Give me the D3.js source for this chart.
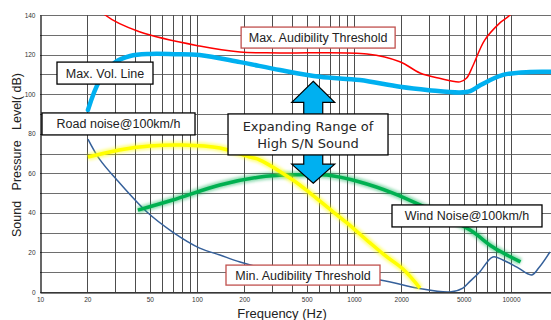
<!DOCTYPE html>
<html>
<head>
<meta charset="utf-8">
<script src="https://cdn.jsdelivr.net/npm/d3@7"></script>
<style>
  body { margin: 0; background: #fff; }
  svg { display: block; font-family: "Liberation Sans", Arial, sans-serif; }
</style>
</head>
<body>
<div id="chart"></div>
<script>
// Tick labels
var freqTicks = [10, 20, 50, 100, 200, 500, 1000, 2000, 5000, 10000];
var dbTicks = [0, 20, 40, 60, 80, 100, 120, 140];

// Series: [frequency Hz, level dB]
var maxAudibility = [[22, 147], [26, 140], [43, 131.5], [104, 124.3], [188, 121.3], [338, 120.8],
  [1210, 120.3], [1960, 116.4], [2630, 110.7], [3500, 108], [4730, 106.2], [5200, 108],
  [5730, 114.5], [6800, 127.3], [8500, 136], [9860, 140], [11000, 146]];

var maxVolume = [[20.2, 92], [24, 107], [30, 116], [37.5, 119.3], [50, 120.3], [72, 120.2],
  [104, 119.8], [188, 116.2], [338, 112.2], [607, 108.8], [1090, 107.1], [1960, 103.7],
  [3000, 102], [4730, 100.8], [5500, 101.5], [6400, 104.6], [8900, 109.7], [13200, 111.2],
  [20000, 111.2]];

var roadNoise = [[20.2, 68.2], [32, 71.8], [50, 73.8], [80, 74.3], [140, 72.8], [218, 68.2],
  [252, 66.7], [408, 56.6], [525, 50], [673, 43], [902, 34.9], [1265, 24.8], [1620, 17.7],
  [2050, 11.6], [2630, 2]];

var windNoise = [[42, 41.4], [70, 46.5], [140, 54.1], [252, 58.1], [391, 59.1], [673, 59.1],
  [1090, 55.6], [1770, 50], [2630, 44], [5490, 31.3], [7660, 22.7], [11500, 15.2]];

var minAudibility = [[20.2, 77.3], [24, 67], [30.9, 56.6], [48, 40.4], [70, 30.3], [104, 22.2],
  [140, 18.7], [188, 15.2], [338, 10.1], [607, 8.1], [1466, 6.1], [2519, 2], [4070, 0],
  [4940, 2], [5500, 5.5], [6300, 10], [7660, 17.7], [8870, 16.2], [10900, 12.6],
  [13500, 8.6], [15000, 12.1], [17700, 20.2]];

// Annotation boxes, anchored at their top-left corner in chart units
var notes = [
  { text: "Max. Audibility Threshold", f: 191, db: 133.9, w: 154, h: 21, border: "#c0504d" },
  { text: "Max. Vol. Line", f: 12.83, db: 116.2, w: 96, h: 22, border: "#000" },
  { text: "Road noise@100km/h", f: 10.3, db: 90.5, w: 153, h: 22, border: "#000" },
  { text: "Wind Noise@100km/h", f: 1746, db: 44, w: 150, h: 22, border: "#000" },
  { text: "Min. Audibility Threshold", f: 153, db: 13.6, w: 154, h: 20, border: "#c0504d" }
];

var svgWidth = 551;
var svgHeight = 320;

var svg = d3.select("#chart")
  .append("svg")
  .attr("width", svgWidth)
  .attr("height", svgHeight);

// log frequency axis, 157px per decade
var x = d3.scaleLog()
  .domain([10, 20000])
  .range([40, 40 + 157 * Math.log10(2000)]);

var y = d3.scaleLinear()
  .domain([0, 140])
  .range([292, 15]);

svg.append("clipPath")
  .attr("id", "plot-clip")
  .append("rect")
  .attr("x", x(10))
  .attr("y", y(140))
  .attr("width", svgWidth - x(10))
  .attr("height", y(0) - y(140));

// Grid lines
var grid = svg.append("g").attr("stroke", "#4d4d4d").attr("stroke-width", 1);

grid.selectAll("line.h")
  .data(y.ticks(14))
  .enter()
  .append("line")
  .attr("x1", x(10))
  .attr("x2", svgWidth)
  .attr("y1", d => Math.round(y(d)) + 0.5)
  .attr("y2", d => Math.round(y(d)) + 0.5)
  .attr("stroke", "#6e6e6e");

grid.selectAll("line.v")
  .data(x.ticks().filter(d => d > 10 && d <= 10000))
  .enter()
  .append("line")
  .attr("x1", d => Math.round(x(d)) + 0.5)
  .attr("x2", d => Math.round(x(d)) + 0.5)
  .attr("y1", y(140))
  .attr("y2", y(0));

// Axes
var bottomAxis = d3.axisBottom(x)
  .tickValues(freqTicks)
  .tickSize(0)
  .tickPadding(5)
  .tickFormat(d3.format("d"));

var leftAxis = d3.axisLeft(y)
  .tickValues(dbTicks)
  .tickSize(0)
  .tickPadding(5);

var xAxis = svg.append("g")
  .attr("transform", `translate(0, ${Math.round(y(0)) + 0.5})`)
  .call(bottomAxis);

var yAxis = svg.append("g")
  .attr("transform", `translate(${Math.round(x(10)) + 0.5}, 0)`)
  .call(leftAxis);

[xAxis, yAxis].forEach(function(a) {
  a.select(".domain").attr("stroke", "#000").attr("stroke-width", 1.2);
  a.selectAll("text")
    .attr("fill", "#333")
    .style("font-size", "6.5px")
    .style("font-family", "'Liberation Sans', Arial, sans-serif");
});

// Curves
var line = d3.line()
  .x(d => x(d[0]))
  .y(d => y(d[1]))
  .curve(d3.curveCatmullRom.alpha(0.5));

svg.append("defs")
  .append("filter")
  .attr("id", "glow")
  .attr("x", "-10%").attr("y", "-50%")
  .attr("width", "120%").attr("height", "200%")
  .append("feGaussianBlur")
  .attr("stdDeviation", 1.6);

var curves = svg.append("g").attr("clip-path", "url(#plot-clip)").attr("fill", "none");

curves.append("path")
  .datum(minAudibility)
  .attr("d", line)
  .attr("stroke", "#35609a")
  .attr("stroke-width", 1.5);

// soft halo under the noise curves
curves.append("path")
  .datum(windNoise)
  .attr("d", line)
  .attr("stroke", "#00b050")
  .attr("stroke-width", 7)
  .attr("opacity", 0.45)
  .attr("filter", "url(#glow)");

curves.append("path")
  .datum(windNoise)
  .attr("d", line)
  .attr("stroke", "#00b050")
  .attr("stroke-width", 3.5);

curves.append("path")
  .datum(roadNoise)
  .attr("d", line)
  .attr("stroke", "#ffff00")
  .attr("stroke-width", 7)
  .attr("opacity", 0.5)
  .attr("filter", "url(#glow)");

curves.append("path")
  .datum(roadNoise)
  .attr("d", line)
  .attr("stroke", "#ffff00")
  .attr("stroke-width", 3.5);

curves.append("path")
  .datum(maxAudibility)
  .attr("d", line)
  .attr("stroke", "#ff0000")
  .attr("stroke-width", 1.5);

curves.append("path")
  .datum(maxVolume)
  .attr("d", line)
  .attr("stroke", "#00b0f0")
  .attr("stroke-width", 4.5)
  .attr("stroke-linecap", "round");

// Double arrow around the middle box
var arrowX = x(550);
var upTip = y(106.5);
var downTip = y(55);

var upArrow = [[0, 0], [21.5, 21], [9.5, 21], [9.5, 38], [-9.5, 38], [-9.5, 21], [-21.5, 21]];
var downArrow = [[0, 0], [21.5, -19], [9.5, -19], [9.5, -36], [-9.5, -36], [-9.5, -19], [-21.5, -19]];

function arrowPath(pts, tipY) {
  return "M" + pts.map(p => [arrowX + p[0], tipY + p[1]].join(",")).join("L") + "Z";
}

svg.append("path")
  .attr("d", arrowPath(upArrow, upTip))
  .attr("fill", "#00b0f0")
  .attr("stroke", "#000")
  .attr("stroke-width", 1.2);

svg.append("path")
  .attr("d", arrowPath(downArrow, downTip))
  .attr("fill", "#00b0f0")
  .attr("stroke", "#000")
  .attr("stroke-width", 1.2);

// Middle box (different font)
var midBox = svg.append("g")
  .attr("transform", `translate(${x(157.6)}, ${y(90)})`);

midBox.append("rect")
  .attr("width", 160)
  .attr("height", 41)
  .attr("fill", "#fff")
  .attr("stroke", "#000")
  .attr("stroke-width", 1.3);

midBox.selectAll("text")
  .data(["Expanding Range of", "High S/N Sound"])
  .enter()
  .append("text")
  .attr("x", 80)
  .attr("y", (d, i) => 17 + i * 17)
  .attr("text-anchor", "middle")
  .attr("fill", "#262626")
  .style("font-family", "'DejaVu Sans', Verdana, sans-serif")
  .style("font-size", "13px")
  .text(d => d);

// Label boxes
var noteGroups = svg.selectAll("g.note")
  .data(notes)
  .enter()
  .append("g")
  .attr("class", "note")
  .attr("transform", d => `translate(${x(d.f)}, ${y(d.db)})`);

noteGroups.append("rect")
  .attr("width", d => d.w)
  .attr("height", d => d.h)
  .attr("fill", "#fff")
  .attr("stroke", d => d.border)
  .attr("stroke-width", 1.3);

noteGroups.append("text")
  .attr("x", d => d.w / 2)
  .attr("y", d => d.h / 2 + 4.5)
  .attr("text-anchor", "middle")
  .attr("fill", "#222")
  .style("font-size", "12.5px")
  .text(d => d.text);

// Axis titles
svg.append("text")
  .attr("transform", "translate(21, 155) rotate(-90)")
  .attr("text-anchor", "middle")
  .attr("fill", "#222")
  .style("font-size", "12.5px")
  .style("white-space", "pre")
  .text("Sound   Pressure   Level( dB)");

svg.append("text")
  .attr("x", 282)
  .attr("y", 318)
  .attr("text-anchor", "middle")
  .attr("fill", "#222")
  .style("font-size", "13px")
  .text("Frequency (Hz)");
</script>
</body>
</html>
